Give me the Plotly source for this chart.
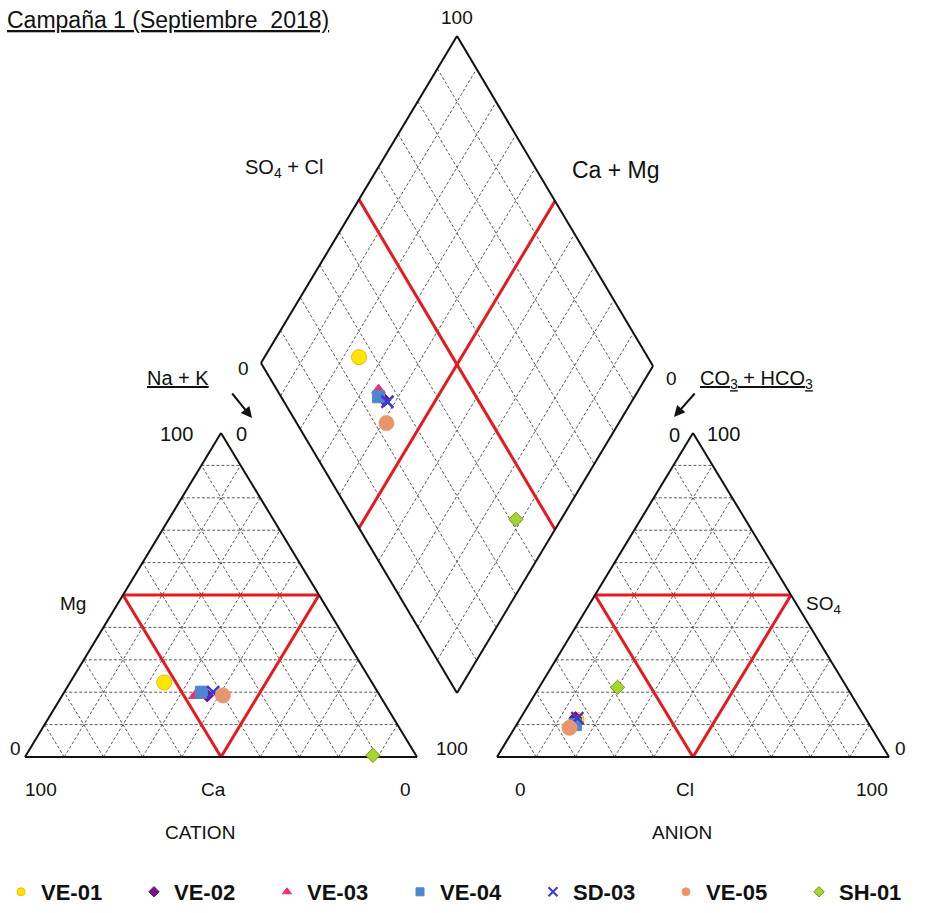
import plotly.graph_objects as go

# ---- sample data (percent of meq) ----
samples = ["VE-01", "VE-02", "VE-03", "VE-04", "SD-03", "VE-05", "SH-01"]
ca_pct  = [53, 44, 47, 45, 42, 40, 11]
mg_pct  = [23, 19, 19, 20, 20, 19, 0.5]
nak_pct = [24, 37, 34, 35, 38, 41, 88.5]
hco3_pct = [74, 74, 74, 75, 73.5, 77, 58.5]
so4_pct  = [11.5, 12, 11, 10, 12, 9, 21.5]
cl_pct   = [14.5, 14, 15, 15, 14.5, 14, 20]

colors = ["#FFE600", "#7A0F8A", "#E8336D", "#4F86D0", "#3B3BD6", "#E8956C", "#A8D42E"]
edge_colors = ["#F2B800", "#7A0F8A", "#E8336D", "#4F86D0", "#3B3BD6", "#E9A070", "#6E9A1E"]
symbols = ["circle", "diamond", "triangle-up", "square", "x-thin", "circle", "diamond"]
sizes = [15, 10, 12, 12, 12, 15, 11]

# ---- diagram geometry (page pixels, y downward) ----
CAT_O = (25.0, 757.0)      # cation triangle, Ca corner
AN_O = (497.0, 757.0)      # anion triangle, HCO3 corner
BASE, HGT = 392.0, 324.0
D_L, D_B, D_T = (261.0, 363.0), (457.0, 693.0), (457.0, 36.0)


def tri_xy(origin, right_pct, top_pct):
    x = origin[0] + BASE * (right_pct + 0.5 * top_pct) / 100.0
    y = origin[1] - HGT * top_pct / 100.0
    return x, y


def dia_xy(n_frac, a_frac):
    x = D_L[0] + n_frac * (D_B[0] - D_L[0]) + a_frac * (D_T[0] - D_L[0])
    y = D_L[1] + n_frac * (D_B[1] - D_L[1]) + a_frac * (D_T[1] - D_L[1])
    return x, y


def seg_trace(segs, color, width, dash="solid"):
    xs, ys = [], []
    for (p, q) in segs:
        xs += [p[0], q[0], None]
        ys += [p[1], q[1], None]
    return go.Scatter(x=xs, y=ys, mode="lines", hoverinfo="skip", showlegend=False,
                      line=dict(color=color, width=width, dash=dash))


grid, outline, red = [], [], []
for O in (CAT_O, AN_O):
    for i in range(1, 10):
        t = i * 10
        # constant top component
        grid.append((tri_xy(O, 0, t), tri_xy(O, 100 - t, t)))
        # constant right component
        grid.append((tri_xy(O, t, 0), tri_xy(O, t, 100 - t)))
        # constant left component
        grid.append((tri_xy(O, 100 - t, 0), tri_xy(O, 0, 100 - t)))
    a, b, c = tri_xy(O, 0, 0), tri_xy(O, 100, 0), tri_xy(O, 0, 100)
    outline += [(a, b), (b, c), (c, a)]
    m1, m2, m3 = tri_xy(O, 0, 50), tri_xy(O, 50, 50), tri_xy(O, 50, 0)
    red += [(m1, m2), (m2, m3), (m3, m1)]

for i in range(1, 10):
    f = i / 10
    grid.append((dia_xy(f, 0), dia_xy(f, 1)))
    grid.append((dia_xy(0, f), dia_xy(1, f)))
dL, dB, dR, dT = dia_xy(0, 0), dia_xy(1, 0), dia_xy(1, 1), dia_xy(0, 1)
outline += [(dL, dB), (dB, dR), (dR, dT), (dT, dL)]
red += [(dia_xy(0.5, 0), dia_xy(0.5, 1)), (dia_xy(0, 0.5), dia_xy(1, 0.5))]

fig = go.Figure()
fig.add_trace(seg_trace(grid, "#5a5a5a", 1, "3px,2px"))
fig.add_trace(seg_trace(red, "#E8191E", 3))
fig.add_trace(seg_trace(outline, "#111111", 2))

for k, name in enumerate(samples):
    cx, cy = tri_xy(CAT_O, nak_pct[k], mg_pct[k])
    ax, ay = tri_xy(AN_O, cl_pct[k], so4_pct[k])
    dx, dy = dia_xy(nak_pct[k] / 100.0, (so4_pct[k] + cl_pct[k]) / 100.0)
    is_x = symbols[k] == "x-thin"
    fig.add_trace(go.Scatter(
        x=[cx, ax, dx], y=[cy, ay, dy], mode="markers", name=name, showlegend=False,
        marker=dict(symbol=symbols[k], size=sizes[k], color=colors[k],
                    line=dict(color=edge_colors[k], width=2.5 if is_x else 1))))
    # legend entry
    fig.add_trace(go.Scatter(
        x=[None], y=[None], mode="markers", name=name,
        marker=dict(symbol=symbols[k], size=9 if is_x else 8, color=colors[k],
                    line=dict(color=edge_colors[k], width=2 if is_x else 1))))

FONT = "Liberation Sans, Arial, sans-serif"
labels = [
    ("<u>Campaña 1 (Septiembre  2018)</u>", 331, 20, 23, "right"),
    ("100", 457, 17, 19, "center"),
    ("SO<sub>4</sub> + Cl", 284, 168, 20, "center"),
    ("Ca + Mg", 616, 170, 23, "center"),
    ("0", 243, 368, 19, "center"),
    ("0", 671, 378, 19, "center"),
    ("<u>Na + K</u>", 178, 378, 20, "center"),
    ("100", 176, 434, 20, "center"),
    ("0", 241, 434, 20, "center"),
    ("Mg", 73, 603, 19, "center"),
    ("0", 15, 748, 19, "center"),
    ("100", 452, 748, 19, "center"),
    ("100", 41, 789, 19, "center"),
    ("Ca", 213, 789, 19, "center"),
    ("0", 405, 789, 19, "center"),
    ("CATION", 200, 832, 19, "center"),
    ("<u>CO<sub>3</sub> + HCO<sub>3</sub></u>", 756, 379, 20, "center"),
    ("0", 674, 435, 20, "center"),
    ("100", 723, 434, 20, "center"),
    ("SO<sub>4</sub>", 823, 605, 19, "center"),
    ("0", 900, 748, 19, "center"),
    ("0", 520, 789, 19, "center"),
    ("Cl", 685, 789, 19, "center"),
    ("100", 872, 789, 19, "center"),
    ("ANION", 682, 832, 19, "center"),
]
for txt, x, y, size, anchor in labels:
    fig.add_annotation(x=x, y=y, xref="x", yref="y", text=txt, showarrow=False,
                       xanchor=anchor, yanchor="middle",
                       font=dict(family=FONT, size=size, color="#111111"))

# arrows pointing into the triangles
for (x0, y0, x1, y1) in [(231, 392, 252, 418), (696, 392, 674, 417)]:
    fig.add_annotation(x=x1, y=y1, ax=x0, ay=y0, xref="x", yref="y", axref="x", ayref="y",
                       text="", showarrow=True, arrowhead=2, arrowsize=1.1,
                       arrowwidth=2, arrowcolor="#111111")

fig.update_layout(
    width=932, height=913, margin=dict(l=0, r=0, t=0, b=0),
    paper_bgcolor="white", plot_bgcolor="white",
    xaxis=dict(range=[0, 932], visible=False, fixedrange=True),
    yaxis=dict(range=[913, 0], visible=False, fixedrange=True),
    legend=dict(orientation="h", x=0.023, y=0.0, yanchor="bottom", xanchor="left",
                entrywidth=88, entrywidthmode="pixels", itemsizing="trace",
                font=dict(family=FONT, size=22, color="#111111", weight="bold"),
                bgcolor="rgba(0,0,0,0)"),
    showlegend=True,
)

fig.write_html("out.html")
